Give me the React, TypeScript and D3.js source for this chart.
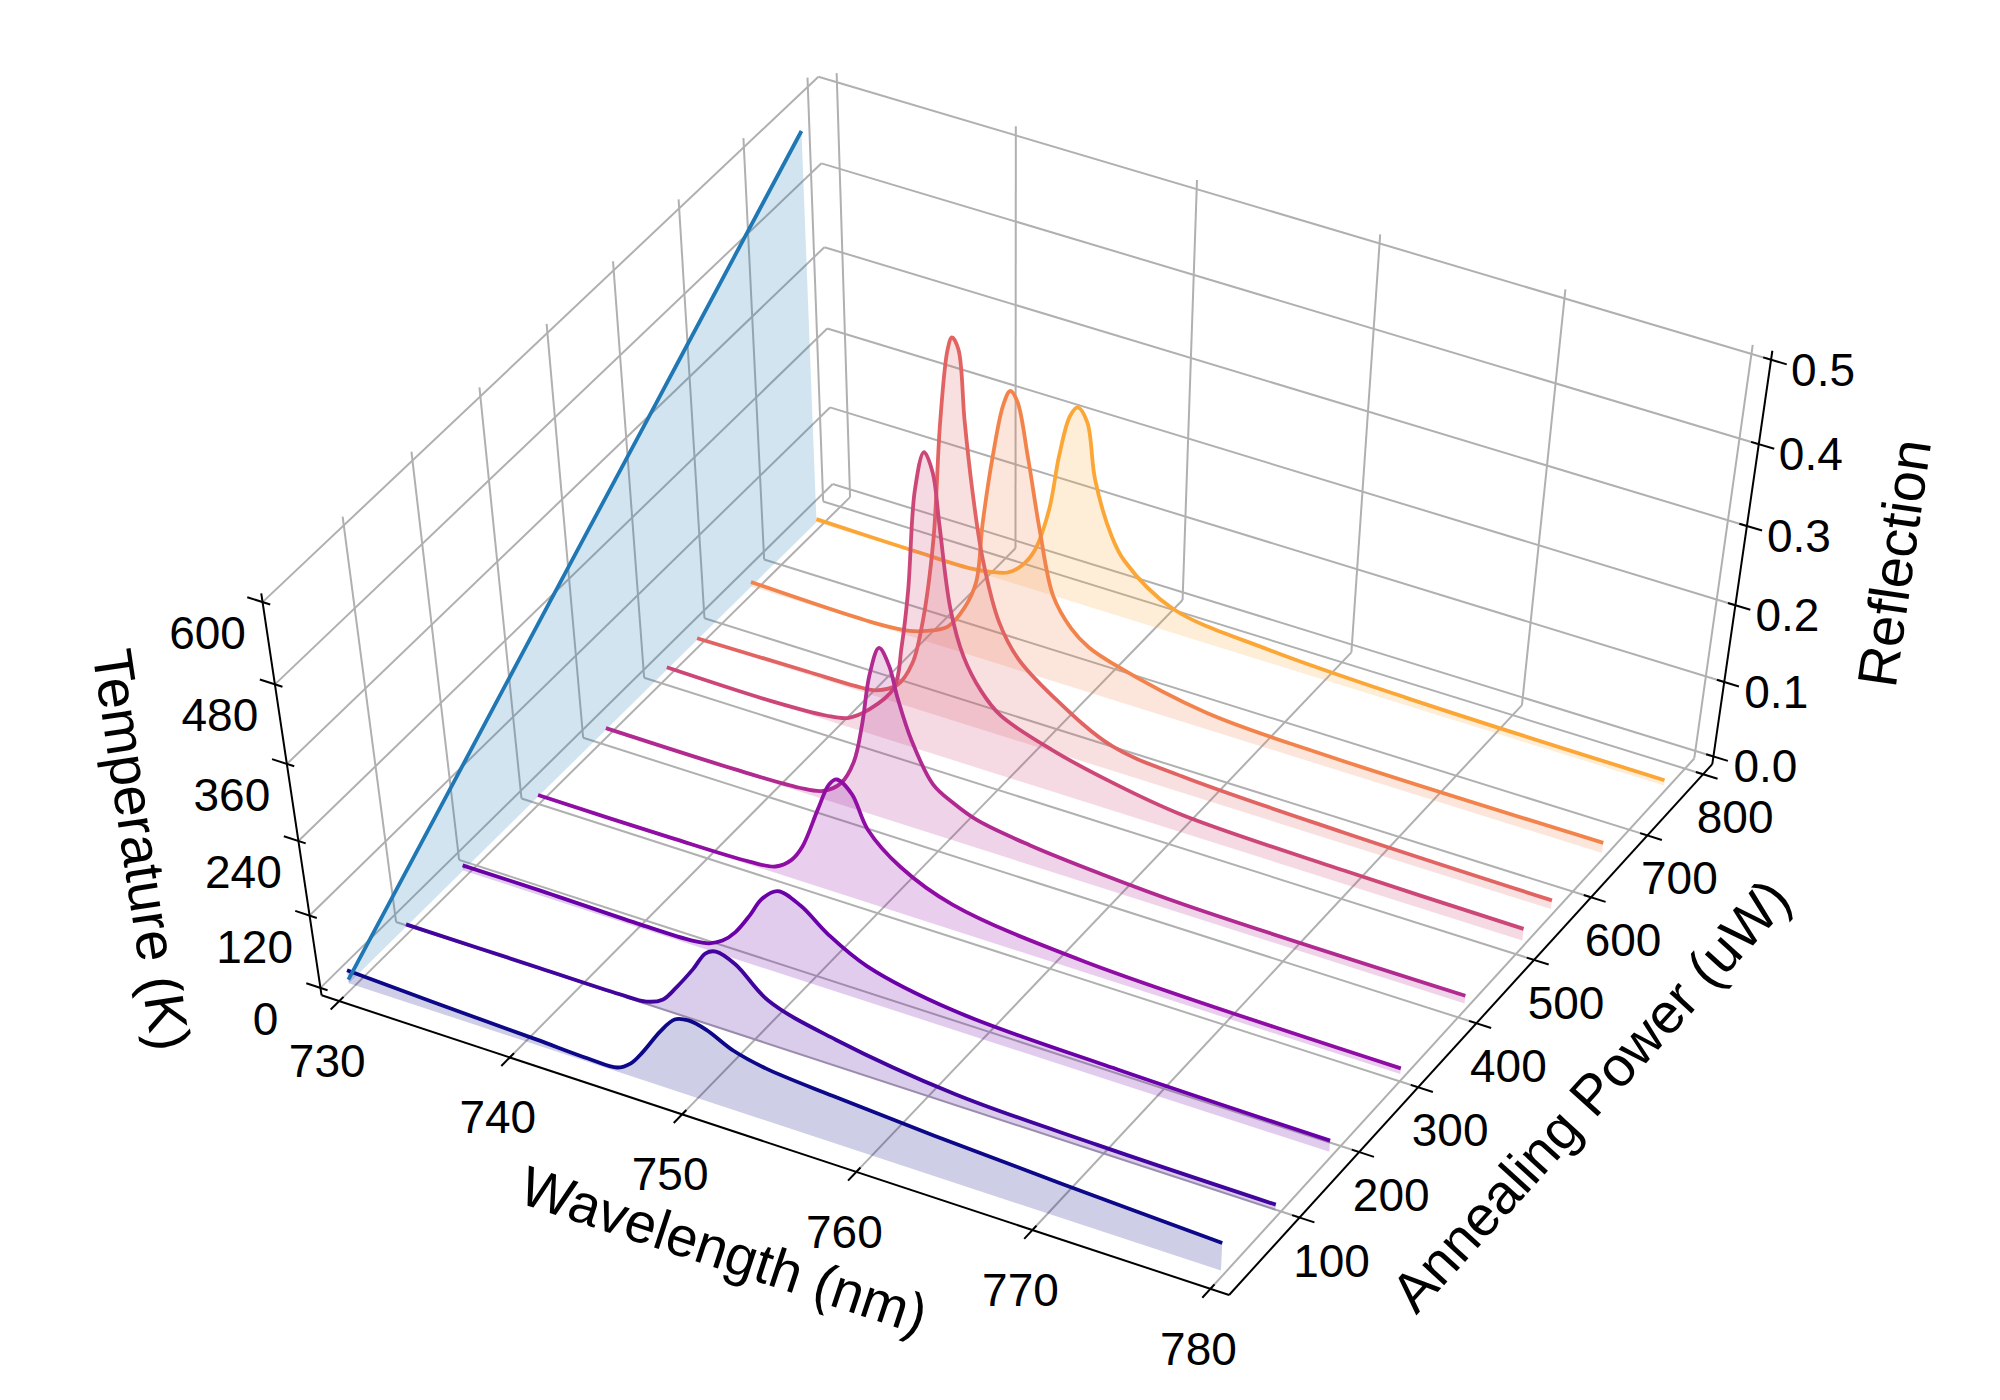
import React, { useMemo } from "react";
import * as d3 from "d3";

// ---------------- data ----------------
const annealingPowers = [0, 90, 180, 300, 410, 510, 560, 650, 760];
const temperatures = [6, 74, 142, 233, 316, 391, 429, 497, 580];

const spectrumP0: [number, number][] = [
  [730, 0.018], [735, 0.013], [741, 0.008], [744, 0.005], [745.7, 0.006], [746.5, 0.018],
  [747.3, 0.041], [748.4, 0.078], [749.3, 0.102], [750.1, 0.107], [751.1, 0.102], [752.6, 0.085],
  [754.4, 0.075], [758.2, 0.067], [763.9, 0.058], [771, 0.049], [780, 0.04],
];
const spectrumP90: [number, number][] = [
  [730, 0.003], [737.8, 0.003], [742.5, 0.003], [744.1, 0.005], [745.1, 0.016], [745.96, 0.04],
  [747.0, 0.073], [747.8, 0.101], [748.4, 0.108], [749.5, 0.099], [751.3, 0.063], [755.1, 0.039],
  [761.9, 0.017], [770, 0.011], [780, 0.009],
];
const spectrumP180: [number, number][] = [
  [730, 0.007], [734.5, 0.007], [740.3, 0.005], [743.5, 0.006], [744.5, 0.01], [745.3, 0.02],
  [746.1, 0.038], [747.0, 0.068], [747.75, 0.096], [748.7, 0.114], [750.0, 0.104], [751.5, 0.077],
  [753.7, 0.05], [758.65, 0.027], [768, 0.019], [780, 0.016],
];
const spectrumP300: [number, number][] = [
  [730, 0.002], [737.85, 0.002], [742.5, 0.004], [744.05, 0.009], [745.0, 0.025], [745.7, 0.049],
  [746.7, 0.107], [747.4, 0.145], [747.85, 0.155], [748.7, 0.142], [749.55, 0.101], [751.4, 0.064],
  [754.4, 0.035], [762, 0.015], [780, 0.008],
];
const spectrumP410: [number, number][] = [
  [730, 0.002], [737.7, 0.002], [741.5, 0.005], [742.9, 0.011], [744.0, 0.03], [744.8, 0.065],
  [745.36, 0.12], [745.86, 0.187], [746.45, 0.226], [747.0, 0.207], [747.45, 0.168], [748.2, 0.118],
  [749.4, 0.068], [750.6, 0.051], [752, 0.038], [755, 0.027], [759, 0.019], [764, 0.013], [780, 0.011],
];
const spectrumP510: [number, number][] = [
  [730, 0.003], [736.2, 0.002], [739.5, 0.006], [740.8, 0.012], [742.1, 0.033], [743.6, 0.0725],
  [744.1, 0.13], [744.55, 0.206], [745.05, 0.336], [745.6, 0.386], [746.07, 0.364], [746.4, 0.303],
  [746.96, 0.201], [747.7, 0.143], [748.7, 0.105], [749.8, 0.081], [752.85, 0.056], [756.3, 0.038],
  [760.4, 0.024], [770, 0.018], [780, 0.016],
];
const spectrumP560: [number, number][] = [
  [730, 0.002], [736.6, 0.004], [739.5, 0.005], [740.7, 0.008], [742.0, 0.025], [742.9, 0.06],
  [743.55, 0.119], [744.25, 0.229], [744.74, 0.38], [745.2, 0.468], [745.45, 0.484], [745.8, 0.472],
  [746.1, 0.39], [746.5, 0.308], [747.05, 0.227], [748.0, 0.15], [749.1, 0.11], [751.1, 0.075],
  [754.6, 0.033], [758.7, 0.022], [768, 0.015], [780, 0.012],
];
const spectrumP650: [number, number][] = [
  [730, 0.006], [737.6, 0.003], [739.5, 0.007], [740.5, 0.014], [741.8, 0.029], [742.8, 0.061],
  [743.5, 0.0995], [743.9, 0.178], [744.5, 0.267], [745.1, 0.334], [745.5, 0.354], [745.9, 0.344],
  [746.5, 0.28], [747.2, 0.192], [748.0, 0.113], [749.05, 0.078], [750.1, 0.06], [751.5, 0.0485],
  [757, 0.022], [764, 0.015], [780, 0.014],
];
const spectrumP760: [number, number][] = [
  [730, 0.004], [736.0, 0.002], [739.2, 0.002], [740.5, 0.006], [741.5, 0.012], [742.3, 0.026],
  [743.1, 0.052], [743.95, 0.112], [744.5, 0.184], [745.1, 0.238], [745.54, 0.252], [746.1, 0.237],
  [746.6, 0.168], [747.6, 0.103], [748.4, 0.075], [751.3, 0.032], [757, 0.017], [765, 0.01], [780, 0.007],
];
const spectra = [
  spectrumP0, spectrumP90, spectrumP180, spectrumP300, spectrumP410,
  spectrumP510, spectrumP560, spectrumP650, spectrumP760,
];

const wavelengthTicks = [730, 740, 750, 760, 770, 780];
const powerTicks = [100, 200, 300, 400, 500, 600, 700, 800];
const reflectionTicks = [0, 0.1, 0.2, 0.3, 0.4, 0.5];
const reflectionTickLabels = ["0.0", "0.1", "0.2", "0.3", "0.4", "0.5"];
const temperatureTicks = [0, 120, 240, 360, 480, 600];

const wavelengthLimits = [730, 780];
const powerLimits = [0, 800];
const reflectionLimits = [0, 0.5];
const temperatureLimits = [0, 600];

// ---------------- helpers ----------------
function fitCamera(points: number[][]): number[] {
  const n = 11;
  const M = Array.from({ length: n }, () => new Array(n + 1).fill(0));
  for (const [u, v, w, X, Y] of points) {
    const r1 = [u, v, w, 1, 0, 0, 0, 0, -X * u, -X * v, -X * w];
    const r2 = [0, 0, 0, 0, u, v, w, 1, -Y * u, -Y * v, -Y * w];
    const rows: [number[], number][] = [[r1, X], [r2, Y]];
    for (const [r, t] of rows) {
      for (let i = 0; i < n; i++) {
        for (let j = 0; j < n; j++) M[i][j] += r[i] * r[j];
        M[i][n] += r[i] * t;
      }
    }
  }
  for (let c = 0; c < n; c++) {
    let p = c;
    for (let r = c + 1; r < n; r++) if (Math.abs(M[r][c]) > Math.abs(M[p][c])) p = r;
    const tmp = M[c]; M[c] = M[p]; M[p] = tmp;
    for (let r = 0; r < n; r++) {
      if (r === c) continue;
      const f = M[r][c] / M[c][c];
      for (let k = c; k <= n; k++) M[r][k] -= f * M[c][k];
    }
  }
  return M.map((row, i) => row[n] / row[i]);
}

const padded = (l: number[]) => {
  const m = (l[1] - l[0]) / 48;
  return [l[0] - m, l[1] + m];
};

const FONT = "'Liberation Sans', Arial, Helvetica, sans-serif";

export default function App() {
  const W = 2000;
  const H = 1400;

  const model = useMemo(() => {
    const xb = padded(wavelengthLimits);
    const yb = padded(powerLimits);
    const zb = padded(reflectionLimits);
    const tb = padded(temperatureLimits);
    const sx = d3.scaleLinear().domain(xb).range([0, 1]);
    const sy = d3.scaleLinear().domain(yb).range([0, 1]);
    const sz = d3.scaleLinear().domain(zb).range([0, 1]);
    const st = d3.scaleLinear().domain(tb).range([0, 1]);
    const [X0, X1] = xb;
    const [Y0, Y1] = yb;
    const [Z0, Z1] = zb;

    // frame calibration: box reference points (data coords) and where they sit on the canvas
    const frame: number[][] = [
      [X0, Y1, 0.5, 818.3, 76.7],
      [730, Y1, Z1, 836, 73.3],
      [730, Y1, Z0, 851.3, 497.5],
      [X0, Y1, 0, 833.8, 483.7],
      [X0, 800, Z0, 823.3, 501.7],
      [780, Y1, Z1, 1752.7, 345],
      [780, Y1, Z0, 1694.3, 756.7],
      [X1, Y1, Z1, 1772.7, 350.7],
      [X1, Y1, Z0, 1711.7, 763.3],
      [X1, Y0, Z0, 1231.7, 1291.7],
      [X0, Y0, Z0, 323.3, 993.3],
      [X0, Y0, Z1, 261.7, 593.3],
      [X0, 100, Z0, 393, 923],
      [X0, 400, Z0, 582.1, 738.3],
      [X0, 600, Z0, 704.6, 618.3],
      [X1, 100, Z0, 1298, 1221],
      [X1, 400, Z0, 1476, 1025.5],
      [X1, 700, Z0, 1647, 835.5],
    ];
    const P = fitCamera(
      frame.map(([x, y, z, px, py]) => [sx(x), sy(y), sz(z), (px - 1000) / 1000, (py - 700) / 1000])
    );
    const proj = (u: number, v: number, w: number): [number, number] => {
      const den = P[8] * u + P[9] * v + P[10] * w + 1;
      const X = (P[0] * u + P[1] * v + P[2] * w + P[3]) / den;
      const Y = (P[4] * u + P[5] * v + P[6] * w + P[7]) / den;
      return [X * 1000 + 1000, Y * 1000 + 700];
    };
    const p3 = (x: number, y: number, z: number) => proj(sx(x), sy(y), sz(z));
    const pT = (x: number, y: number, t: number) => proj(sx(x), sy(y), st(t));
    return { X0, X1, Y0, Y1, Z0, Z1, p3, pT };
  }, []);

  const { X0, X1, Y0, Y1, Z0, Z1, p3, pT } = model;
  const dX = (wavelengthLimits[1] - wavelengthLimits[0]) / 12;
  const dY = (powerLimits[1] - powerLimits[0]) / 12;

  const seg = (a: [number, number], b: [number, number]) => `M${a[0]},${a[1]}L${b[0]},${b[1]}`;

  // grid lines on the three back panes
  const grid: string[] = [];
  wavelengthTicks.forEach((x) => {
    grid.push(seg(p3(x, Y0, Z0), p3(x, Y1, Z0)));
    grid.push(seg(p3(x, Y1, Z0), p3(x, Y1, Z1)));
  });
  powerTicks.forEach((y) => {
    grid.push(seg(p3(X0, y, Z0), p3(X1, y, Z0)));
    grid.push(seg(p3(X0, y, Z0), p3(X0, y, Z1)));
  });
  reflectionTicks.forEach((z) => {
    grid.push(seg(p3(X0, Y0, z), p3(X0, Y1, z)));
    grid.push(seg(p3(X0, Y1, z), p3(X1, Y1, z)));
  });

  // axis lines & ticks
  const axes: string[] = [
    seg(p3(X0, Y0, Z0), p3(X1, Y0, Z0)),
    seg(p3(X1, Y0, Z0), p3(X1, Y1, Z0)),
    seg(p3(X1, Y1, Z0), p3(X1, Y1, Z1)),
    seg(p3(X0, Y0, Z0), p3(X0, Y0, Z1)),
  ];
  wavelengthTicks.forEach((x) => axes.push(seg(p3(x, Y0 - 0.2 * dY, Z0), p3(x, Y0 + 0.1 * dY, Z0))));
  powerTicks.forEach((y) => axes.push(seg(p3(X1 - 0.1 * dX, y, Z0), p3(X1 + 0.2 * dX, y, Z0))));
  reflectionTicks.forEach((z) => axes.push(seg(p3(X1 - 0.1 * dX, Y1, z), p3(X1 + 0.2 * dX, Y1, z))));
  temperatureTicks.forEach((t) => axes.push(seg(pT(X0 + 0.1 * dX, Y0, t), pT(X0 - 0.2 * dX, Y0, t))));

  const smooth = d3
    .line<[number, number]>()
    .x((d) => d[0])
    .y((d) => d[1])
    .curve(d3.curveCatmullRom.alpha(0.5));
  const straight = d3
    .line<[number, number]>()
    .x((d) => d[0])
    .y((d) => d[1]);

  const colors = annealingPowers.map((_, i) => d3.interpolatePlasma(i * 0.1));

  const curves = spectra.map((s, i) => {
    const y = annealingPowers[i];
    const pts = s.map(([x, r]) => p3(x, y, r));
    const top = smooth(pts) || "";
    const first = s[0][0];
    const last = s[s.length - 1][0];
    const br = p3(last, y, 0);
    const bl = p3(first, y, 0);
    const fill = `${top}L${br[0]},${br[1]}L${bl[0]},${bl[1]}Z`;
    return { line: top, fill, color: colors[i] };
  });

  // temperature profile on the wavelength = 730 wall
  const tempPts = annealingPowers.map((y, i) => pT(wavelengthLimits[0], y, temperatures[i]));
  const tempLine = straight(tempPts) || "";
  const tb1 = pT(wavelengthLimits[0], annealingPowers[annealingPowers.length - 1], 0);
  const tb0 = pT(wavelengthLimits[0], annealingPowers[0], 0);
  const tempFill = `${tempLine}L${tb1[0]},${tb1[1]}L${tb0[0]},${tb0[1]}Z`;

  const tickFont = 46;
  const labelFont = 56;

  const xMid = p3((X0 + X1) / 2, Y0, Z0);
  const yMid = p3(X1, (Y0 + Y1) / 2, Z0);
  const zMid = p3(X1, Y1, (Z0 + Z1) / 2);
  const tMid = p3(X0, Y0, (Z0 + Z1) / 2);

  const angle = (a: [number, number], b: [number, number]) =>
    (Math.atan2(b[1] - a[1], b[0] - a[0]) * 180) / Math.PI;
  const xAng = angle(p3(X0, Y0, Z0), p3(X1, Y0, Z0));
  const yAng = angle(p3(X1, Y0, Z0), p3(X1, Y1, Z0));
  const zAng = angle(p3(X1, Y1, Z0), p3(X1, Y1, Z1));
  const tAng = angle(p3(X0, Y0, Z1), p3(X0, Y0, Z0));

  const label = (txt: string, p: [number, number], dx: number, dy: number, rot: number, size: number, key: string) => (
    <text
      key={key}
      transform={`translate(${p[0] + dx},${p[1] + dy}) rotate(${rot})`}
      textAnchor="middle"
      dominantBaseline="central"
      fontFamily={FONT}
      fontSize={size}
      fill="#000"
    >
      {txt}
    </text>
  );

  return (
    <svg
      width={W}
      height={H}
      viewBox={`0 0 ${W} ${H}`}
      style={{ position: "absolute", left: 0, top: 0, background: "#fff" }}
    >
      <rect x={0} y={0} width={W} height={H} fill="#fff" />
      <g stroke="#b0b0b0" strokeWidth={2} fill="none">
        {grid.map((d, i) => (
          <path key={i} d={d} />
        ))}
      </g>
      <g stroke="#000" strokeWidth={2} fill="none">
        {axes.map((d, i) => (
          <path key={i} d={d} />
        ))}
      </g>
      <path d={tempFill} fill="#1f77b4" fillOpacity={0.2} stroke="none" />
      {curves
        .map((c, i) => (
          <g key={i}>
            <path d={c.fill} fill={c.color} fillOpacity={0.2} stroke="none" />
            <path d={c.line} fill="none" stroke={c.color} strokeWidth={3.8} strokeLinejoin="round" />
          </g>
        ))
        .reverse()}
      <path d={tempLine} fill="none" stroke="#1f77b4" strokeWidth={3.8} />

      {wavelengthTicks.map((x, i) => label(String(x), p3(x, Y0, Z0), -12, 60, 0, tickFont, `xt${i}`))}
      {powerTicks.map((y, i) => label(String(y), p3(X1, y, Z0), 32, 43, 0, tickFont, `yt${i}`))}
      {reflectionTicks.map((z, i) => label(reflectionTickLabels[i], p3(X1, Y1, z), 52, 10, 0, tickFont, `zt${i}`))}
      {temperatureTicks.map((t, i) => label(String(t), pT(X0, Y0, t), -55, 31, 0, tickFont, `tt${i}`))}

      {label("Wavelength (nm)", xMid, -45, 107, xAng, labelFont, "xl")}
      {label("Annealing Power (uW)", yMid, 114, 72, yAng, labelFont, "yl")}
      {label("Reflection", zMid, 153, -3, zAng, labelFont, "zl")}
      {label("Temperature (K)", tMid, -151, 47, tAng, labelFont, "tl")}
    </svg>
  );
}
